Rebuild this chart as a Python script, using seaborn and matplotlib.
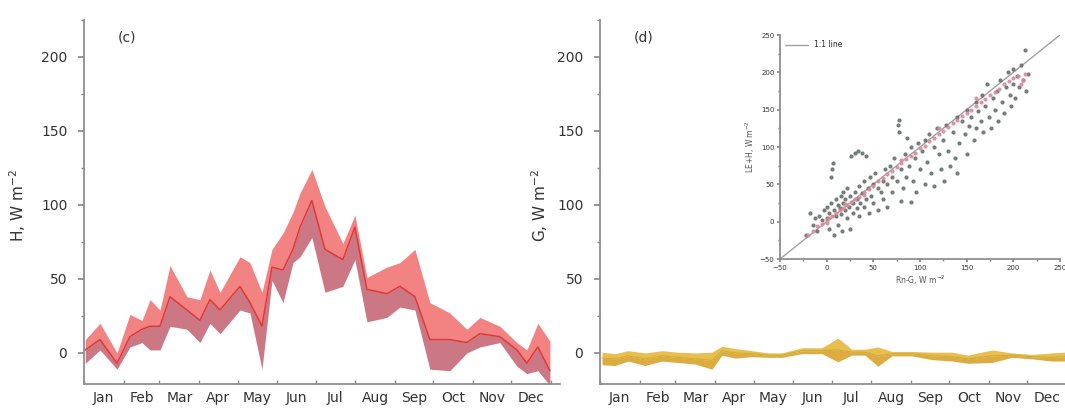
import numpy as np
import pandas as pd
import matplotlib
matplotlib.use("Agg")
import matplotlib.pyplot as plt
import seaborn as sns
from matplotlib.ticker import MultipleLocator

# ---------------- data ----------------
months = ["Jan", "Feb", "Mar", "Apr", "May", "Jun", "Jul", "Aug", "Sep", "Oct", "Nov", "Dec"]

# Panel (c): sensible heat flux H
h_day = [1, 12.5, 25.8, 35.9, 45.3, 51.6, 59.4, 67.2, 80.5, 90.6, 98.4, 106.3, 121.9, 129.7,
         139.1, 146.9, 155.5, 163.3, 168.8, 178.1, 188.3, 202.3, 211.7, 221.1, 236.7, 246.9,
         258.6, 270.3, 285.9, 299.2, 309.4, 325.0, 338.3, 346.1, 354.7, 364.1]
h_mean = [2, 9, -7, 11, 16, 18, 18, 38, 29, 22, 36, 29, 45, 34,
          18, 58, 56, 70, 85, 103, 70, 63, 85, 43, 40, 45,
          38, 9, 9, 7, 13, 11, 2, -7, 4, -12]
h_upper = [9, 20, 0, 26, 22, 36, 29, 59, 38, 36, 56, 41, 65, 61,
           41, 70, 81, 95, 108, 124, 99, 74, 93, 51, 58, 61,
           70, 34, 27, 16, 24, 18, 7, 2, 20, 8]
h_lower = [-7, 2, -11, 4, 7, 2, 2, 18, 16, 7, 20, 13, 29, 27,
           -11, 49, 34, 61, 65, 78, 41, 45, 63, 21, 24, 31,
           29, -11, -12, 0, 4, 7, -9, -14, -12, -22]

# Panel (d): soil heat flux G
g_day = [1.6, 11.7, 21.9, 35.2, 48.4, 60.9, 74.2, 87.5, 95.3, 105.5, 118.8, 131.3, 142.2,
         157.8, 173.4, 185.9, 196.9, 207.0, 217.2, 228.1, 243.8, 259.4, 275.0, 287.5,
         306.3, 321.9, 337.5, 353.1, 363.3]
g_mean = [-3.5, -4, -2, -4, -2, -3, -4, -5, 1.5, 0, -0.5, -1.5, -1.5,
          1.5, 1.5, 2, 0.5, 0.5, -2, -0.5, -0.5, -2, -2.5, -4,
          -2, -1.5, -2.5, -3, -2.5]
g_upper = [0.5, -0.5, 1.5, 0, 1.5, 0.5, 0, 0.5, 4.5, 3, 1.5, 0, 0,
           3.5, 3.5, 10, 2.5, 2.5, 4, 1, 1, 0.5, 0.5, -1.5,
           2, 0, -1, 0, 0.5]
g_lower = [-8, -8.5, -5.5, -8.5, -5.5, -6.5, -7.5, -11, -1.5, -3.5, -2.5, -3, -3,
           -0.5, -0.5, -6, -1.5, -1.5, -9, -2, -2, -4.5, -5.5, -7,
           -6.5, -3, -4, -5.5, -5.5]

# Inset: energy balance closure (Rn-G vs LE+H)
gray_x = [-22, -18, -15, -12, -10, -8, -5, -3, 0, 0, 2, 3, 5, 5, 6, 7, 8, 8, 10, 10, 12, 12, 14, 15,
          15, 16, 18, 18, 20, 20, 22, 22, 24, 25, 25, 26, 28, 28, 30, 30, 32, 32, 34, 35, 35, 36,
          38, 38, 40, 40, 42, 42, 44, 45, 46, 48, 50, 50, 52, 55, 55, 58, 60, 60,
          62, 65, 65, 68, 70, 70, 72, 75, 76, 78, 78, 80, 80, 82, 84, 85, 86, 88, 90, 90, 92,
          95, 96, 98, 100, 102, 105, 105, 108, 110, 112, 115, 115, 118, 120, 122, 125, 126,
          128, 130, 132, 135, 138, 140, 140,
          142, 145, 148, 150, 150, 152, 155, 158, 160, 160, 162, 165, 166, 168, 170, 172, 174,
          176, 178, 180, 182, 184, 186, 188, 190, 192, 194, 196, 198, 200, 200, 202, 204, 206,
          208, 210, 212, 214, 216]
gray_y = [-18, 12, -5, 5, -12, 8, 2, 15, 5, 20, -10, 12, 25, 60, 70, 78, -18, 15, 30, 8, 22, -5, 18, 35,
          10, -12, 25, 40, 15, 30, 5, 45, 20, -10, 35, 88, 25, 12, 40, 92, 18, 30, 95, 48, 8, 25,
          92, 38, 20, 55, 88, 30, 45, 12, 60, 35, 25, 50, 65, 15, 45, 40, 55, 30,
          70, 20, 50, 75, 60, 40, 85, 55, 130, 120, 136, 70, 28, 45, 90, 60, 112, 75, 26, 100, 55,
          85, 40, 105, 70, 95, 110, 50, 80, 118, 65, 100, 48, 125, 90, 70, 110, 55,
          130, 95, 75, 120, 85, 140, 65,
          105, 135, 118, 150, 90, 128, 140, 110, 160, 125, 148, 135, 170, 120, 155, 185, 140,
          125, 165, 150, 175, 135, 190, 160, 145, 180, 200, 170, 155, 205, 185, 165, 195, 180,
          210, 190, 230, 175, 198]
pink_x = [-20, -15, -10, -5, 0, 3, 6, 10, 14, 18, 22, 26, 30, 35, 40, 45, 50, 55, 60, 65, 70, 75,
          80, 85, 90, 95, 100, 105, 110, 115, 120, 125, 130, 135, 140, 145, 150, 155, 160, 165,
          170, 175, 180, 185, 190, 195, 200, 205, 210, 212, 208, 160, 120, 80, 40, 20, 0]
pink_y = [-18, -12, -6, -3, 2, 5, 8, 12, 15, 18, 22, 26, 30, 33, 40, 44, 48, 54, 58, 64, 68, 73,
          78, 84, 88, 92, 98, 102, 108, 112, 117, 122, 127, 132, 136, 142, 146, 150, 155, 160,
          164, 170, 174, 178, 184, 188, 192, 195, 190, 198, 185, 165, 125, 82, 36, 24, -2]
one_to_one = [-50, 250]

# ---------------- style ----------------
sns.set_theme(style="ticks")
plt.rcParams["font.family"] = ["DejaVu Sans"]
plt.rcParams["axes.edgecolor"] = "#8a8a8a"
plt.rcParams["xtick.color"] = "#8a8a8a"
plt.rcParams["ytick.color"] = "#8a8a8a"
plt.rcParams["xtick.labelcolor"] = "#333333"
plt.rcParams["ytick.labelcolor"] = "#333333"

fig = plt.figure(figsize=(10.65, 4.09), dpi=100)
W, H = 1065, 409
bottom = 1 - 384 / H
height = (384 - 20) / H
axw = 476 / W
ax1 = fig.add_axes([84 / W, bottom, axw, height])
ax2 = fig.add_axes([600 / W, bottom, axw, height])

month_starts = [0, 31, 59, 90, 120, 151, 181, 212, 243, 273, 304, 334, 365]
month_mids = [(month_starts[i] + month_starts[i + 1]) / 2 for i in range(12)]


def style_main(ax, ylabel, tag):
    ax.set_xlim(0, 372)
    ax.set_ylim(-21, 225)
    ax.set_yticks([0, 50, 100, 150, 200])
    ax.yaxis.set_minor_locator(MultipleLocator(25))
    ax.set_xticks(month_mids)
    ax.set_xticklabels(months)
    ax.set_xticks(month_starts, minor=True)
    ax.tick_params(axis="x", which="major", length=0, labelsize=10, pad=5)
    ax.tick_params(axis="x", which="minor", length=3, direction="in")
    ax.tick_params(axis="y", which="major", length=4, labelsize=10, pad=8)
    ax.tick_params(axis="y", which="minor", length=2)
    sns.despine(ax=ax)
    ax.set_ylabel(ylabel, fontsize=11, color="#333333")
    ax.set_xlabel("")
    ax.text(0.07, 0.953, tag, transform=ax.transAxes, fontsize=10, color="#333333",
            ha="left", va="center")


# Panel (c)
dfh = pd.DataFrame({"day": h_day, "mean": h_mean, "upper": h_upper, "lower": h_lower})
ax1.fill_between(dfh["day"], dfh["lower"], dfh["mean"], color="#c4606e", alpha=0.85, lw=0)
ax1.fill_between(dfh["day"], dfh["mean"], dfh["upper"], color="#f26c6c", alpha=0.85, lw=0)
sns.lineplot(data=dfh, x="day", y="mean", ax=ax1, color="#e03838", lw=1.1)
style_main(ax1, "H, W m$^{-2}$", "(c)")
ax1.yaxis.set_label_coords(-0.118, 0.49)

# Panel (d)
dfg = pd.DataFrame({"day": g_day, "mean": g_mean, "upper": g_upper, "lower": g_lower})
ax2.fill_between(dfg["day"], dfg["lower"], dfg["mean"], color="#dba22e", alpha=0.9, lw=0)
ax2.fill_between(dfg["day"], dfg["mean"], dfg["upper"], color="#e8b63c", alpha=0.9, lw=0)
sns.lineplot(data=dfg, x="day", y="mean", ax=ax2, color="#c9b030", lw=0.8)
style_main(ax2, "G, W m$^{-2}$", "(d)")
ax2.yaxis.set_label_coords(-0.105, 0.49)

# Inset
axi = fig.add_axes([780 / W, 1 - 259 / H, 280 / W, 224 / H])
axi.plot(one_to_one, one_to_one, color="#a0a0a0", lw=1.0, label="1:1 line", zorder=1)
dfs_g = pd.DataFrame({"x": gray_x, "y": gray_y})
dfs_p = pd.DataFrame({"x": pink_x, "y": pink_y})
sns.scatterplot(data=dfs_g, x="x", y="y", ax=axi, color="#65706b", s=9, linewidth=0, alpha=0.9, zorder=2)
sns.scatterplot(data=dfs_p, x="x", y="y", ax=axi, color="#d88a9c", s=9, linewidth=0, alpha=0.9, zorder=3)
axi.set_xlim(-50, 250)
axi.set_ylim(-50, 250)
axi.set_xticks([-50, 0, 50, 100, 150, 200, 250])
axi.set_yticks([-50, 0, 50, 100, 150, 200, 250])
axi.xaxis.set_minor_locator(MultipleLocator(25))
axi.yaxis.set_minor_locator(MultipleLocator(25))
axi.tick_params(which="major", length=2.5, labelsize=5, pad=1.5)
axi.tick_params(which="minor", length=1.5)
sns.despine(ax=axi)
axi.set_xlabel("Rn-G, W m$^{-2}$", fontsize=5.5, color="#555555", labelpad=2)
axi.set_ylabel("LE+H, W m$^{-2}$", fontsize=5.5, color="#555555", labelpad=2)
axi.legend(loc="upper left", frameon=False, fontsize=5.5, handlelength=3, borderaxespad=0.3)
axi.patch.set_alpha(0)

fig.savefig("out.png", dpi=100)
